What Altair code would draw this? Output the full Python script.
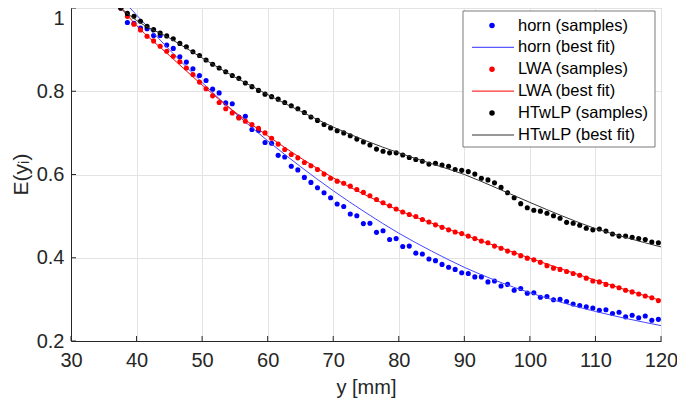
import altair as alt
import pandas as pd

# ---------------- data ----------------
y_mm = [37.6, 38.6, 39.6, 40.6, 41.6, 42.6, 43.6, 44.6, 45.6, 46.6,
        47.6, 48.6, 49.6, 50.6, 51.6, 52.6, 53.6, 54.6, 55.6, 56.6,
        57.6, 58.6, 59.6, 60.6, 61.6, 62.6, 63.6, 64.6, 65.6, 66.6,
        67.6, 68.6, 69.6, 70.6, 71.6, 72.6, 73.6, 74.6, 75.6, 76.6,
        77.6, 78.6, 79.6, 80.6, 81.6, 82.6, 83.6, 84.6, 85.6, 86.6,
        87.6, 88.6, 89.6, 90.6, 91.6, 92.6, 93.6, 94.6, 95.6, 96.6,
        97.6, 98.6, 99.6, 100.6, 101.6, 102.6, 103.6, 104.6, 105.6, 106.6,
        107.6, 108.6, 109.6, 110.6, 111.6, 112.6, 113.6, 114.6, 115.6, 116.6,
        117.6, 118.6, 119.6]

horn_samples = [1.0, 0.965, 0.963, 0.952, 0.950, 0.934, 0.934, 0.911, 0.903, 0.883,
                0.870, 0.854, 0.838, 0.826, 0.805, 0.796, 0.772, 0.770, 0.738, 0.740,
                0.708, 0.706, 0.677, 0.675, 0.646, 0.642, 0.620, 0.611, 0.593, 0.581,
                0.568, 0.556, 0.544, 0.529, 0.523, 0.505, 0.501, 0.482, 0.483, 0.461,
                0.465, 0.444, 0.446, 0.427, 0.428, 0.411, 0.409, 0.397, 0.393, 0.384,
                0.377, 0.372, 0.364, 0.362, 0.354, 0.354, 0.342, 0.344, 0.332, 0.336,
                0.322, 0.326, 0.315, 0.316, 0.305, 0.307, 0.299, 0.300, 0.295, 0.289,
                0.285, 0.282, 0.279, 0.274, 0.275, 0.266, 0.269, 0.258, 0.262, 0.256,
                0.260, 0.250, 0.252]

lwa_samples = [1.0, 0.980, 0.961, 0.947, 0.932, 0.921, 0.908, 0.896, 0.884, 0.871,
               0.856, 0.840, 0.822, 0.806, 0.789, 0.773, 0.758, 0.748, 0.736, 0.728,
               0.720, 0.711, 0.700, 0.687, 0.673, 0.660, 0.648, 0.640, 0.629, 0.621,
               0.612, 0.601, 0.591, 0.584, 0.579, 0.572, 0.564, 0.557, 0.549, 0.540,
               0.532, 0.525, 0.517, 0.510, 0.504, 0.499, 0.492, 0.486, 0.479, 0.473,
               0.467, 0.462, 0.458, 0.452, 0.446, 0.440, 0.436, 0.428, 0.423, 0.416,
               0.411, 0.405, 0.399, 0.395, 0.389, 0.381, 0.375, 0.372, 0.367, 0.362,
               0.358, 0.351, 0.344, 0.342, 0.336, 0.332, 0.328, 0.322, 0.318, 0.313,
               0.308, 0.304, 0.297]

htwlp_samples = [1.0, 0.987, 0.980, 0.968, 0.956, 0.948, 0.940, 0.933, 0.926, 0.915,
                 0.907, 0.895, 0.886, 0.875, 0.865, 0.856, 0.847, 0.838, 0.831, 0.820,
                 0.811, 0.802, 0.793, 0.787, 0.781, 0.773, 0.765, 0.758, 0.749, 0.738,
                 0.730, 0.720, 0.712, 0.705, 0.700, 0.693, 0.685, 0.678, 0.671, 0.661,
                 0.656, 0.652, 0.652, 0.647, 0.641, 0.636, 0.632, 0.625, 0.627, 0.623,
                 0.620, 0.612, 0.610, 0.607, 0.601, 0.591, 0.587, 0.580, 0.569, 0.556,
                 0.544, 0.530, 0.520, 0.514, 0.512, 0.507, 0.501, 0.495, 0.485, 0.483,
                 0.478, 0.471, 0.467, 0.469, 0.464, 0.457, 0.452, 0.452, 0.449, 0.446,
                 0.444, 0.438, 0.436]

horn_fit_x = [39, 45, 50, 55, 60, 65, 70, 75, 80, 85, 90, 95, 100, 105, 110, 115, 120]
horn_fit = [1.0, 0.900, 0.821, 0.748, 0.681, 0.619, 0.561, 0.508, 0.459, 0.416,
            0.377, 0.344, 0.316, 0.292, 0.271, 0.253, 0.237]

lwa_fit_x = [37.6, 40, 45, 50, 55, 60, 65, 70, 75, 80, 85, 90, 95, 100, 105, 110, 115, 120]
lwa_fit = [1.0, 0.958, 0.886, 0.815, 0.750, 0.693, 0.640, 0.592, 0.550, 0.514,
           0.483, 0.455, 0.427, 0.399, 0.372, 0.346, 0.321, 0.297]

htwlp_fit_x = [37.6, 40, 45, 50, 55, 60, 65, 70, 75, 80, 85, 90, 95, 100, 105, 110, 115, 120]
htwlp_fit = [1.0, 0.970, 0.928, 0.880, 0.834, 0.792, 0.752, 0.714, 0.681, 0.652,
             0.626, 0.600, 0.567, 0.533, 0.500, 0.470, 0.447, 0.426]

x_ticks = [30, 40, 50, 60, 70, 80, 90, 100, 110, 120]
y_ticks = [0.2, 0.4, 0.6, 0.8, 1.0]

legend_labels = ["horn (samples)", "horn (best fit)", "LWA (samples)",
                 "LWA (best fit)", "HTwLP (samples)", "HTwLP (best fit)"]
legend_kinds = ["point", "line", "point", "line", "point", "line"]
legend_colors = ["#0000ff", "#5a5aff", "#ff0000", "#ff3030", "#000000", "#333333"]

# ---------------- styling ----------------
W, H = 590, 333
PAD_L, PAD_R, PAD_T, PAD_B = 63, 16, 0, 57
FONT = "Liberation Sans"
TXT = "#262626"

xscale = alt.Scale(domain=[30, 120], nice=False, zero=False)
yscale = alt.Scale(domain=[0.2, 1.0], nice=False, zero=False)

x_axis = alt.Axis(values=x_ticks, title="y [mm]", grid=True, gridColor="#e3e3e3",
                  domainColor=TXT, tickSize=0, labelPadding=9, labelFontSize=20,
                  labelFlush=False,
                  labelColor=TXT, labelFont=FONT, titleFont=FONT, titleFontSize=20,
                  titleFontWeight="normal", titleColor=TXT, titleY=52,
                  titleBaseline="alphabetic")
y_axis = alt.Axis(values=y_ticks, title="E(yᵢ)", grid=True, gridColor="#e3e3e3",
                  format="~g",
                  domainColor=TXT, tickSize=0, labelPadding=7, labelFontSize=20,
                  labelColor=TXT, labelFont=FONT, labelFlush=False,
                  labelBaseline={"condition": {"test": "datum.value == 1", "value": "top"},
                                 "value": "middle"},
                  titleFont=FONT, titleFontSize=21, titleFontWeight="normal",
                  titleColor=TXT, titleX=-50, titleY=166, titleAngle=270,
                  titleBaseline="middle", titleAlign="center")


def xenc(field):
    return alt.X(f"{field}:Q", scale=xscale, axis=x_axis)


def yenc(field):
    return alt.Y(f"{field}:Q", scale=yscale, axis=y_axis)


def samples_layer(vals, color):
    df = pd.DataFrame({"x": y_mm, "e": vals})
    return alt.Chart(df).mark_circle(size=26, opacity=1, color=color).encode(
        x=xenc("x"), y=yenc("e"))


def fit_layer(xv, vals, color):
    df = pd.DataFrame({"x": xv, "e": vals})
    return alt.Chart(df).mark_line(color=color, strokeWidth=1,
                                   interpolate="monotone").encode(
        x=xenc("x"), y=yenc("e"))


# inward tick marks
xt = alt.Chart(pd.DataFrame({"t": x_ticks})).mark_rule(color=TXT, strokeWidth=1).encode(
    x=xenc("t"), y=alt.value(H), y2=alt.value(H - 5))
yt = alt.Chart(pd.DataFrame({"t": y_ticks})).mark_rule(color=TXT, strokeWidth=1).encode(
    y=yenc("t"), x=alt.value(0), x2=alt.value(5))

layers = [xt, yt,
          samples_layer(horn_samples, "#0000ff"),
          fit_layer(horn_fit_x, horn_fit, "#4646ff"),
          samples_layer(lwa_samples, "#ff0000"),
          fit_layer(lwa_fit_x, lwa_fit, "#ff0000"),
          samples_layer(htwlp_samples, "#000000"),
          fit_layer(htwlp_fit_x, htwlp_fit, "#333333")]

# legend (manual)
BOX_R = W - 6
BOX_L = BOX_R - 192
one = pd.DataFrame({"a": [0]})
layers.append(alt.Chart(one).mark_rect(fill="white", stroke="#7a7a7a", strokeWidth=1).encode(
    x=alt.value(BOX_L), x2=alt.value(BOX_R), y=alt.value(3), y2=alt.value(139)))
for i, (lab, kind, col) in enumerate(zip(legend_labels, legend_kinds, legend_colors)):
    yy = 17.5 + 21.9 * i
    if kind == "point":
        layers.append(alt.Chart(one).mark_circle(size=30, opacity=1, color=col).encode(
            x=alt.value(BOX_L + 29), y=alt.value(yy)))
    else:
        layers.append(alt.Chart(one).mark_rule(color=col, strokeWidth=1.2).encode(
            x=alt.value(BOX_L + 9), x2=alt.value(BOX_L + 51), y=alt.value(yy)))
    layers.append(alt.Chart(pd.DataFrame({"label": [lab]})).mark_text(
        align="left", baseline="middle", font=FONT, fontSize=16.5, color="#000000").encode(
        x=alt.value(BOX_L + 55), y=alt.value(yy), text="label:N"))

chart = alt.layer(*layers).properties(
    width=W, height=H,
    autosize=alt.AutoSizeParams(type="none"),
    padding={"left": PAD_L, "top": PAD_T, "right": PAD_R, "bottom": PAD_B},
).configure_view(stroke=None).configure(background="white")

chart.save("out.html", embed_options={"renderer": "svg", "actions": False})
